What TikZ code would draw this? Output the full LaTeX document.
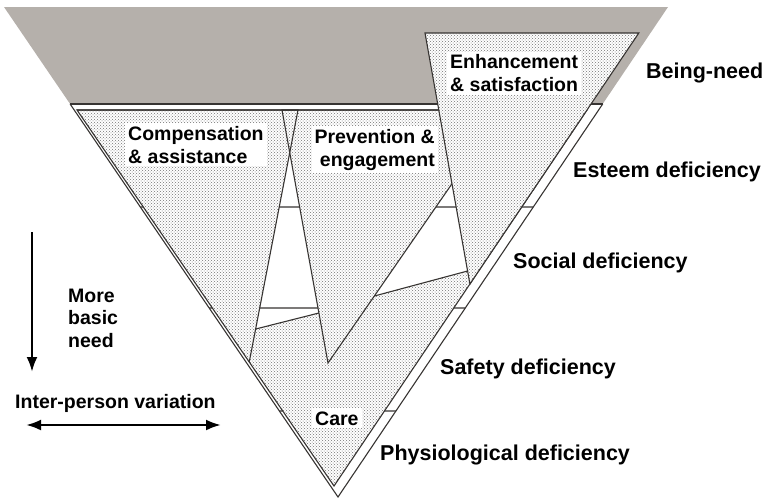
\documentclass[tikz,border=0pt]{standalone}
\usepackage{fontspec}
\setmainfont{Liberation Sans}
\usetikzlibrary{calc,patterns,arrows.meta}
\definecolor{layergrey}{RGB}{181,176,171}
\definecolor{edgecol}{RGB}{55,52,50}

\begin{document}
\begin{tikzpicture}[x=1pt,y=-1pt,
  edge/.style={draw=edgecol, line width=1.1pt, line join=miter},
  stipple/.style={pattern=crosshatch dots, pattern color=black!55, preaction={fill=white}},
  levellabel/.style={font=\fontsize{21.5}{24}\selectfont\bfseries, inner sep=0pt, anchor=base west},
  zonelabel/.style={font=\fontsize{19.5}{23}\selectfont\bfseries, fill=white, inner sep=3pt},
  notelabel/.style={font=\fontsize{19.5}{22.5}\selectfont\bfseries, inner sep=0pt, anchor=base west},
  bigarrow/.style={line width=2.6pt, draw=black},
  tip/.style={}
]
\useasboundingbox (0,0) rectangle (772,499);

% outer triangle, top layer boundary
\coordinate (O1) at (4,7);
\coordinate (O2) at (668,7);
\coordinate (O3) at (338,497);
\coordinate (GL) at ($(O1)!{97/490}!(O3)$);
\coordinate (GR) at ($(O2)!{97/490}!(O3)$);

% inner triangle
\coordinate (I1) at (77,110);
\coordinate (I2) at (587,110);
\coordinate (I3) at (334,486);

% compensation triangle
\coordinate (CR) at (298,110);
\coordinate (CA) at ($(I3)!{124/376}!(I1)$);

% prevention triangle
\coordinate (PL) at (282,110);
\coordinate (PR) at (503,110);
\coordinate (PA) at (328,363);

% enhancement triangle
\coordinate (EL) at (425,33);
\coordinate (ER) at ($(I3)!{453/376}!(I2)$);
\coordinate (EA) at ($(I3)!{202/376}!(I2)$);

% gaps between the triangles
\coordinate (X1) at (intersection of CR--CA and PL--PA);
\coordinate (X2) at (intersection of PA--PR and EL--EA);
\coordinate (C207) at ($(CR)!{97/252}!(CA)$);
\coordinate (P207) at ($(PL)!{97/253}!(PA)$);
\coordinate (C308) at ($(CR)!{198/252}!(CA)$);
\coordinate (P308) at ($(PL)!{198/253}!(PA)$);
\coordinate (C329) at ($(CR)!{219/252}!(CA)$);
\coordinate (P313) at ($(PL)!{203/253}!(PA)$);
\coordinate (Q207) at ($(PA)!{156/253}!(PR)$);
\coordinate (E207) at ($(EL)!{174/251}!(EA)$);
\coordinate (Q296) at ($(PA)!{67/253}!(PR)$);
\coordinate (E271) at ($(EL)!{238/251}!(EA)$);

% being-need layer
\fill[layergrey] (O1) -- (O2) -- (GR) -- (GL) -- cycle;
\draw[edge] (GL) -- (GR);
\draw[edge] (GL) -- (O3) -- (GR);

% deficiency layers
\path[stipple] (I1) -- (I2) -- (I3) -- cycle;
\fill[white] (X1) -- (P313) -- (C329) -- cycle;
\fill[white] (X2) -- (E271) -- (Q296) -- cycle;
\draw[edge] (I1) -- (I2) -- (I3) -- cycle;
\draw[edge] (I1) -- (CR) -- (CA);
\draw[edge] (PL) -- (PR) -- (PA) -- cycle;
\draw[edge] (C207) -- (P207);
\draw[edge] (C308) -- (P308);
\draw[edge] (C329) -- (P313);
\draw[edge] (Q207) -- (E207);
\draw[edge] (Q296) -- (E271);

% enhancement
\path[stipple] (EL) -- (ER) -- (EA) -- cycle;
\draw[edge] (EL) -- (ER) -- (EA) -- cycle;

% level ticks on both sides
\foreach \yy in {207,308,411} {
  \draw[edge] ($(O2)!{(\yy-7)/490}!(O3)$) -- ($(I3)!{(486-\yy)/376}!(I2)$);
  \draw[edge] ($(O1)!{(\yy-7)/490}!(O3)$) -- ($(I3)!{(486-\yy)/376}!(I1)$);
}

% zone labels
\node[zonelabel, align=left, anchor=base west] (comp) at (125,163.3) {Compensation\\\& assistance};
\node[zonelabel, align=right, anchor=base east] (prev) at (438,166) {Prevention \&\\engagement};
\node[zonelabel, align=left, anchor=base west] (enh) at (447,91.7) {Enhancement\\\& satisfaction};
\node[zonelabel, anchor=base west] (care) at (312,425) {Care};

% level labels
\node[levellabel] (being) at (646,78) {Being-need};
\node[levellabel] (esteem) at (573,177) {Esteem deficiency};
\node[levellabel] (social) at (513,268) {Social deficiency};
\node[levellabel] (safety) at (440,374) {Safety deficiency};
\node[levellabel] (physio) at (380,460) {Physiological deficiency};

% axes notes
\node[notelabel, align=left] (basic) at (68,347) {More\\basic\\need};
\node[notelabel] (variation) at (15,408) {Inter-person variation};
\coordinate (dn1) at (32,232);
\coordinate (dn2) at (32,372);
\draw[bigarrow, -{Latex[length=15pt,width=11pt]}] (dn1) -- (dn2);
\coordinate (lr1) at (26,425);
\coordinate (lr2) at (221,425);
\draw[bigarrow, {Latex[length=15pt,width=11pt]}-{Latex[length=15pt,width=11pt]}] (lr1) -- (lr2);
\end{tikzpicture}
\end{document}
